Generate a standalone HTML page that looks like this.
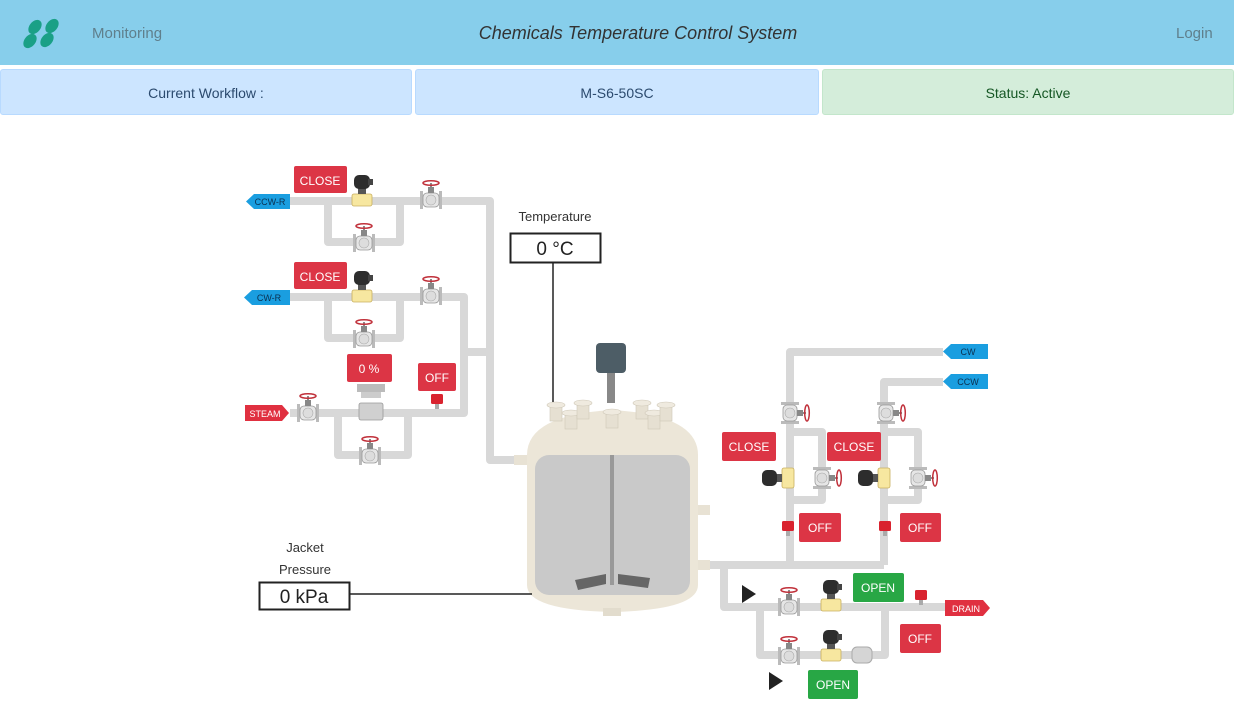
<!DOCTYPE html>
<html><head><meta charset="utf-8">
<style>
body{margin:0;width:1234px;height:706px;overflow:hidden;background:#fff;font-family:"Liberation Sans",sans-serif;position:relative}
.hdr{position:absolute;left:0;top:0;width:1234px;height:65px;background:#87ceeb}
.nav{position:absolute;top:25px;font-size:15px;color:#5f7f8c}
.title{position:absolute;top:23px;left:0;width:1276px;text-align:center;font-size:18px;font-style:italic;color:#333}
.box{position:absolute;top:69px;height:46px;border:1px solid #b8daff;background:#cce5ff;border-radius:3px;box-sizing:border-box;text-align:center;line-height:46px;font-size:14px;color:#2b4a6e}
svg{position:absolute;left:0;top:0}
.btn{font-family:"Liberation Sans",sans-serif;font-size:12px;fill:#fff;text-anchor:middle}
.tag{font-family:"Liberation Sans",sans-serif;font-size:9px;text-anchor:middle}
</style></head><body>
<div class="hdr"></div>
<svg width="70" height="65"><g fill="#1aa086"><ellipse cx="35" cy="27" rx="8" ry="5.5" transform="rotate(-50 35 27)"/><ellipse cx="52" cy="26" rx="8" ry="5.5" transform="rotate(-50 52 26)"/><ellipse cx="30" cy="41" rx="8" ry="5.5" transform="rotate(-50 30 41)"/><ellipse cx="47" cy="40" rx="8" ry="5.5" transform="rotate(-50 47 40)"/></g></svg>
<div class="nav" style="left:92px">Monitoring</div>
<div class="title">Chemicals Temperature Control System</div>
<div class="nav" style="left:1176px">Login</div>
<div class="box" style="left:0;width:412px">Current Workflow :</div>
<div class="box" style="left:415px;width:404px">M-S6-50SC</div>
<div class="box" style="left:822px;width:412px;background:#d4edda;border-color:#c3e6cb;color:#155724">Status: Active</div>

<svg width="1234" height="706">
<defs>
<symbol id="gv" overflow="visible"><rect x="-11" y="-9" width="3" height="18" fill="#bbb"/><rect x="8" y="-9" width="3" height="18" fill="#bbb"/><rect x="-8" y="-7" width="16" height="14" rx="4" fill="#e6e6e6" stroke="#999" stroke-width="0.8"/><circle cx="0" cy="0" r="5" fill="#ddd" stroke="#aaa" stroke-width="0.6"/><rect x="-3" y="-13" width="6" height="6" fill="#888"/><line x1="0" y1="-13" x2="0" y2="-17" stroke="#666" stroke-width="1.5"/><ellipse cx="0" cy="-17" rx="8" ry="2.3" fill="none" stroke="#c0303a" stroke-width="1.5"/></symbol>
<symbol id="sv" overflow="visible"><rect x="-10" y="-6" width="20" height="12" rx="2" fill="#f7e7a0" stroke="#c9b060" stroke-width="0.8"/><rect x="-4" y="-12" width="8" height="6" fill="#555"/><rect x="-8" y="-25" width="16" height="14" rx="5" fill="#2d2d2d"/><rect x="6" y="-21" width="5" height="6" fill="#444"/></symbol>
<symbol id="svv" overflow="visible"><rect x="-6" y="-10" width="12" height="20" rx="2" fill="#f7e7a0" stroke="#c9b060" stroke-width="0.8"/><rect x="-12" y="-4" width="6" height="8" fill="#555"/><rect x="-26" y="-8" width="15" height="16" rx="5" fill="#2d2d2d"/></symbol>
<symbol id="gvv" overflow="visible"><rect x="-9" y="-11" width="18" height="3" fill="#bbb"/><rect x="-9" y="8" width="18" height="3" fill="#bbb"/><rect x="-7" y="-8" width="14" height="16" rx="4" fill="#e6e6e6" stroke="#999" stroke-width="0.8"/><circle cx="0" cy="0" r="5" fill="#ddd" stroke="#aaa" stroke-width="0.6"/><rect x="7" y="-3" width="6" height="6" fill="#888"/><line x1="13" y1="0" x2="16" y2="0" stroke="#666" stroke-width="1.5"/><ellipse cx="17" cy="0" rx="2.3" ry="8" fill="none" stroke="#c0303a" stroke-width="1.5"/></symbol>
<symbol id="fs" overflow="visible"><rect x="-6" y="-6" width="12" height="10" rx="1.5" fill="#d9232f"/><rect x="-2" y="4" width="4" height="5" fill="#aaa"/></symbol>
<symbol id="nz" overflow="visible"><rect x="-6" y="0" width="12" height="16" fill="#e6e0d2" stroke="#cfc8b8" stroke-width="0.6"/><ellipse cx="0" cy="0" rx="9" ry="3" fill="#efeadf" stroke="#cfc8b8" stroke-width="0.6"/></symbol>
</defs>
<g fill="none" stroke="#d8d8d8" stroke-width="8" stroke-linejoin="round">
<path d="M290 201H490V460H520"/><path d="M328 201V242H400V201"/>
<path d="M290 297H464V413H290"/><path d="M328 297V338H400V297"/><path d="M464 352H490"/>
<path d="M338 413V455H408V413"/>
<path d="M943 352H790V565"/><path d="M943 382H884V565"/><path d="M790 432H822V500H790"/><path d="M884 432H918V500H884"/>
<path d="M710 565H884"/><path d="M724 565V607H945"/><path d="M760 607V655H885V607"/>
</g>
<g>
<use href="#sv" x="362" y="200"/><use href="#gv" x="431" y="200"/><use href="#gv" x="364" y="243"/>
<use href="#sv" x="362" y="296"/><use href="#gv" x="431" y="296"/><use href="#gv" x="364" y="339"/>
<use href="#gv" x="308" y="413"/><use href="#gv" x="370" y="456"/>
<rect x="357" y="384" width="28" height="8" fill="#bbb"/><rect x="361" y="392" width="20" height="6" fill="#ccc"/><rect x="359" y="403" width="24" height="17" rx="2" fill="#d0d0d0" stroke="#999" stroke-width="0.8"/>
<use href="#fs" x="437" y="400"/>
</g>
<g>
<use href="#gvv" x="790" y="413"/><use href="#gvv" x="886" y="413"/>
<use href="#svv" x="788" y="478"/><use href="#svv" x="884" y="478"/>
<use href="#gvv" x="822" y="478"/><use href="#gvv" x="918" y="478"/>
<use href="#fs" x="788" y="527"/><use href="#fs" x="885" y="527"/>
<use href="#gv" x="789" y="607"/><use href="#sv" x="831" y="605"/>
<use href="#gv" x="789" y="656"/><use href="#sv" x="831" y="655"/>
<rect x="852" y="647" width="20" height="16" rx="5" fill="#d5d5d5" stroke="#aaa"/><use href="#fs" x="921" y="596"/>
</g>
<g>
<path d="M254 194H290V209H254L246 201.5Z" fill="#1a9ee0"/><text class="tag" x="270" y="205" fill="#0b3050">CCW-R</text>
<path d="M252 290H290V305H252L244 297.5Z" fill="#1a9ee0"/><text class="tag" x="269" y="301" fill="#0b3050">CW-R</text>
<path d="M245 405H282L289 413L282 421H245Z" fill="#e03040"/><text class="tag" x="265" y="417" fill="#fff">STEAM</text>
<path d="M951 344H988V359H951L943 351.5Z" fill="#1a9ee0"/><text class="tag" x="968" y="355" fill="#0b3050">CW</text>
<path d="M951 374H988V389H951L943 381.5Z" fill="#1a9ee0"/><text class="tag" x="968" y="385" fill="#0b3050">CCW</text>
<path d="M945 600H983L990 608L983 616H945Z" fill="#e03040"/><text class="tag" x="966" y="612" fill="#fff">DRAIN</text>
</g>
<g>
<rect x="514" y="455" width="14" height="10" fill="#e8e2d4"/><rect x="698" y="505" width="12" height="10" fill="#e8e2d4"/><rect x="698" y="560" width="12" height="10" fill="#e8e2d4"/>
<rect x="596" y="343" width="30" height="30" rx="4" fill="#4d5d66"/><rect x="607" y="373" width="8" height="30" fill="#888"/>
<path d="M527 455Q527 415 612 410Q698 415 698 455V585Q698 610 612 612Q527 610 527 585Z" fill="#ece6d8"/>
<use href="#nz" x="556" y="405"/><use href="#nz" x="571" y="413"/><use href="#nz" x="583" y="403"/><use href="#nz" x="642" y="403"/><use href="#nz" x="654" y="413"/><use href="#nz" x="666" y="405"/><use href="#nz" x="612" y="412"/>
<rect x="535" y="455" width="155" height="140" rx="14" fill="#c9c9c9"/>
<rect x="610" y="455" width="4" height="130" fill="#999"/>
<path d="M575 580L606 574V584L578 590Z M618 574L650 578L648 588L618 584Z" fill="#666"/>
<rect x="603" y="608" width="18" height="8" fill="#e2dccd"/>
</g>
<g fill="#222"><path d="M742 585L756 594L742 603Z"/><path d="M769 672L783 681L769 690Z"/></g>
<g>
<text x="555" y="221" font-size="13" text-anchor="middle" fill="#333">Temperature</text>
<rect x="510.5" y="233.5" width="90" height="29" fill="#fff" stroke="#222" stroke-width="2"/><text x="555" y="255" font-size="19" text-anchor="middle" fill="#222">0 °C</text>
<line x1="553" y1="263" x2="553" y2="402" stroke="#222" stroke-width="1.5"/>
<text x="305" y="552" font-size="13" text-anchor="middle" fill="#333">Jacket</text><text x="305" y="574" font-size="13" text-anchor="middle" fill="#333">Pressure</text>
<rect x="259.5" y="582.5" width="90" height="27" fill="#fff" stroke="#222" stroke-width="2"/><text x="304" y="603" font-size="19" text-anchor="middle" fill="#222">0 kPa</text>
<line x1="350" y1="594" x2="532" y2="594" stroke="#222" stroke-width="1.5"/>
</g>
<g>
<rect x="294" y="166" width="53" height="27" rx="2" fill="#dc3545"/><text class="btn" x="320" y="185">CLOSE</text>
<rect x="294" y="262" width="53" height="27" rx="2" fill="#dc3545"/><text class="btn" x="320" y="281">CLOSE</text>
<rect x="347" y="354" width="45" height="28" rx="2" fill="#dc3545"/><text class="btn" x="369" y="373">0 %</text>
<rect x="418" y="363" width="38" height="28" rx="2" fill="#dc3545"/><text class="btn" x="437" y="382">OFF</text>
<rect x="722" y="432" width="54" height="29" rx="2" fill="#dc3545"/><text class="btn" x="749" y="451">CLOSE</text>
<rect x="827" y="432" width="54" height="29" rx="2" fill="#dc3545"/><text class="btn" x="854" y="451">CLOSE</text>
<rect x="799" y="513" width="42" height="29" rx="2" fill="#dc3545"/><text class="btn" x="820" y="532">OFF</text>
<rect x="900" y="513" width="41" height="29" rx="2" fill="#dc3545"/><text class="btn" x="920" y="532">OFF</text>
<rect x="853" y="573" width="51" height="29" rx="2" fill="#28a745"/><text class="btn" x="878" y="592">OPEN</text>
<rect x="900" y="624" width="41" height="29" rx="2" fill="#dc3545"/><text class="btn" x="920" y="643">OFF</text>
<rect x="808" y="670" width="50" height="29" rx="2" fill="#28a745"/><text class="btn" x="833" y="689">OPEN</text>
</g>
</svg>
</body></html>
